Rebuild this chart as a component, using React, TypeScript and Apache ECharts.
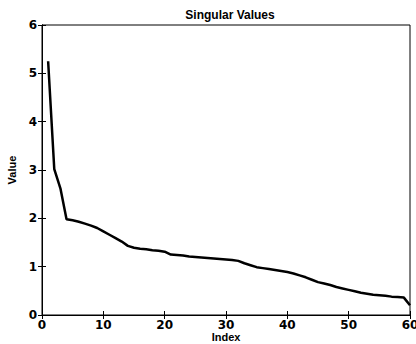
import React, { useEffect, useRef } from "react";
import * as echarts from "echarts";

const indices: number[] = Array.from({ length: 60 }, (_, i) => i + 1);
const values: number[] = [
  5.25, 3.02, 2.62, 1.98, 1.96, 1.93, 1.89, 1.85, 1.8, 1.73,
  1.66, 1.59, 1.52, 1.43, 1.39, 1.37, 1.36, 1.34, 1.33, 1.31,
  1.25, 1.24, 1.23, 1.21, 1.2, 1.19, 1.18, 1.17, 1.16, 1.15,
  1.14, 1.12, 1.07, 1.03, 0.99, 0.97, 0.95, 0.93, 0.91, 0.89,
  0.86, 0.82, 0.78, 0.73, 0.68, 0.65, 0.62, 0.58, 0.55, 0.52,
  0.49, 0.46, 0.44, 0.42, 0.41, 0.4, 0.38, 0.37, 0.36, 0.2,
];
const titleText = "Singular Values";
const xName = "Index";
const yName = "Value";

export default function App() {
  const ref = useRef<HTMLDivElement>(null);
  useEffect(() => {
    if (!ref.current) return;
    const chart = echarts.init(ref.current, undefined, { renderer: "svg" });
    const font = "'Liberation Sans', Arial, sans-serif";
    const tickFont = "'DejaVu Sans', 'Liberation Sans', sans-serif";
    const tickStyle = { show: true, inside: true, length: 4, lineStyle: { color: "#000", width: 1 } };
    chart.setOption({
      animation: false,
      backgroundColor: "#fff",
      title: {
        text: titleText,
        left: 225,
        top: 4,
        textAlign: "center",
        textStyle: { fontFamily: font, fontSize: 12, fontWeight: "bold", color: "#000" },
      },
      grid: {
        left: 42,
        right: 6,
        top: 25,
        bottom: 29,
        containLabel: false,
        outerBoundsMode: "none",
        show: true,
        borderColor: "#000",
        borderWidth: 1,
        backgroundColor: "#fff",
      },
      xAxis: [
        {
          type: "value",
          min: 0,
          max: 60,
          interval: 10,
          name: xName,
          nameLocation: "middle",
          nameGap: 16,
          nameMoveOverlap: false,
          nameTextStyle: { fontFamily: font, fontSize: 11, lineHeight: 12, fontWeight: "bold", color: "#000" },
          axisLine: { show: true, lineStyle: { color: "#000" } },
          axisTick: tickStyle,
          axisLabel: { fontFamily: tickFont, fontSize: 12, fontWeight: "bold", color: "#000", margin: 4 },
          splitLine: { show: false },
        },
        {
          type: "value",
          position: "top",
          min: 0,
          max: 60,
          interval: 10,
          axisLine: { show: true, lineStyle: { color: "#000" } },
          axisTick: tickStyle,
          axisLabel: { show: false },
          splitLine: { show: false },
        },
      ],
      yAxis: [
        {
          type: "value",
          min: 0,
          max: 6,
          interval: 1,
          name: yName,
          nameLocation: "middle",
          nameGap: 24,
          nameTextStyle: { fontFamily: font, fontSize: 11, fontWeight: "bold", color: "#000" },
          axisLine: { show: true, lineStyle: { color: "#000" } },
          axisTick: tickStyle,
          axisLabel: { fontFamily: tickFont, fontSize: 12, fontWeight: "bold", color: "#000", margin: 5 },
          splitLine: { show: false },
        },
        {
          type: "value",
          position: "right",
          min: 0,
          max: 6,
          interval: 1,
          axisLine: { show: true, lineStyle: { color: "#000" } },
          axisTick: tickStyle,
          axisLabel: { show: false },
          splitLine: { show: false },
        },
      ],
      series: [
        {
          type: "line",
          data: indices.map((x, i) => [x, values[i]]),
          showSymbol: false,
          lineStyle: { color: "#000", width: 2.5 },
          xAxisIndex: 0,
          yAxisIndex: 0,
        },
      ],
    });
    return () => chart.dispose();
  }, []);
  return <div ref={ref} style={{ width: 416, height: 344, position: "absolute", left: 0, top: 0 }} />;
}
